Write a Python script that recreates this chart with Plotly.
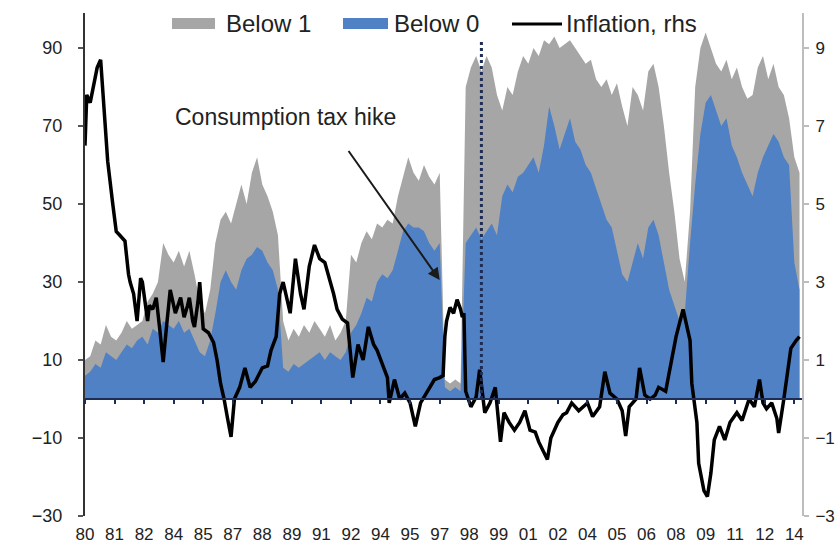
import pandas as pd
import plotly.graph_objects as go

# ---- data -------------------------------------------------------------
# Share of CPI items with y/y inflation below 1% and below 0% (quarterly, %)
quarters = pd.date_range("1980-01-01", periods=138, freq="3MS")

below_1 = [10, 11, 15, 14, 19, 16, 15, 17, 20, 18, 19, 20, 25, 27, 30, 40,
           37, 35, 38, 34, 38, 32, 25, 22, 28, 40, 46, 48, 45, 50, 55, 50,
           58, 62, 55, 52, 48, 42, 20, 15, 18, 16, 19, 17, 20, 18, 16, 19,
           15, 17, 20, 37, 35, 40, 43, 41, 45, 44, 46, 45, 52, 57, 62, 58,
           56, 60, 57, 55, 58, 5, 4, 5, 4, 80, 85, 88, 84, 88, 85, 78,
           74, 80, 78, 84, 88, 86, 90, 88, 92, 91, 93, 90, 91, 92, 90, 88,
           86, 87, 82, 80, 82, 78, 81, 75, 70, 80, 78, 74, 84, 86, 80, 70,
           58, 48, 36, 30, 48, 80, 90, 94, 90, 86, 84, 87, 82, 85, 80, 77,
           78, 85, 88, 82, 86, 80, 78, 72, 62, 58]

below_0 = [6, 7, 9, 8, 12, 11, 10, 12, 14, 13, 15, 16, 14, 18, 17, 20,
           19, 18, 20, 17, 18, 15, 12, 11, 15, 22, 30, 33, 30, 28, 33, 36,
           37, 39, 38, 35, 33, 28, 8, 7, 9, 8, 9, 10, 11, 12, 10, 12,
           11, 10, 12, 17, 19, 22, 26, 25, 30, 32, 31, 33, 38, 43, 45, 44,
           44, 43, 40, 38, 40, 3, 2, 3, 2, 40, 42, 44, 41, 43, 45, 42,
           52, 55, 53, 57, 58, 60, 62, 58, 65, 75, 70, 64, 68, 72, 66, 64,
           60, 58, 54, 50, 46, 44, 38, 32, 30, 35, 40, 36, 44, 46, 42, 35,
           28, 24, 20, 22, 40, 55, 68, 76, 78, 74, 70, 72, 65, 62, 58, 55,
           52, 58, 62, 65, 68, 66, 62, 60, 35, 28]

# Headline CPI inflation, y/y % (right-hand scale)
infl_dates = [
    "1980-01", "1980-02", "1980-04", "1980-06", "1980-08", "1980-10", "1980-11", "1980-12",
    "1981-02", "1981-05", "1981-07", "1981-09", "1981-11", "1981-12", "1982-02", "1982-03",
    "1982-05", "1982-07", "1982-09", "1982-10", "1983-01", "1983-02", "1983-04", "1983-06",
    "1983-08", "1983-10", "1983-12", "1984-02", "1984-04", "1984-05", "1984-08", "1984-10",
    "1984-12", "1985-01", "1985-03", "1985-04", "1985-06", "1985-07", "1985-09", "1985-12",
    "1986-03", "1986-05", "1986-07", "1986-09", "1986-11", "1987-01", "1987-03", "1987-06",
    "1987-09", "1987-12", "1988-03", "1988-07", "1988-10", "1988-12", "1989-03", "1989-05",
    "1989-07", "1989-09", "1989-11", "1990-02", "1990-05", "1990-07", "1990-10", "1991-01",
    "1991-04", "1991-07", "1991-10", "1991-12", "1992-02", "1992-05", "1992-08", "1992-11",
    "1993-02", "1993-05", "1993-08", "1993-11", "1994-01", "1994-04", "1994-07", "1994-08",
    "1994-11", "1995-02", "1995-05", "1995-08", "1995-11", "1996-02", "1996-04", "1996-07",
    "1996-10", "1997-01", "1997-03", "1997-04", "1997-05", "1997-07", "1997-09", "1997-11",
    "1998-01", "1998-02", "1998-03", "1998-04", "1998-07", "1998-10", "1998-12", "1999-03",
    "1999-06", "1999-09", "1999-12", "2000-02", "2000-05", "2000-08", "2000-11", "2001-02",
    "2001-05", "2001-08", "2001-10", "2002-03", "2002-05", "2002-09", "2002-12", "2003-02",
    "2003-05", "2003-09", "2004-02", "2004-05", "2004-09", "2004-12", "2005-03", "2005-07",
    "2005-10", "2005-12", "2006-02", "2006-06", "2006-08", "2006-11", "2007-02", "2007-05",
    "2007-07", "2007-11", "2008-02", "2008-05", "2008-09", "2008-11", "2009-01", "2009-02",
    "2009-05", "2009-06", "2009-09", "2009-11", "2010-01", "2010-03", "2010-06", "2010-09",
    "2010-12", "2011-04", "2011-07", "2011-11", "2012-02", "2012-05", "2012-07", "2012-09",
    "2012-12", "2013-03", "2013-04", "2013-07", "2013-09", "2013-11", "2014-02", "2014-04",
]
infl_values = [
    6.5, 7.8, 7.6, 8.1, 8.5, 8.7, 8.0, 7.5,
    6.1, 5.0, 4.3, 4.2, 4.1, 4.05, 3.2, 3.0,
    2.7, 2.0, 3.1, 3.0, 2.0, 2.4, 2.3, 2.6,
    1.8, 0.95, 1.9, 2.8, 2.4, 2.2, 2.6, 2.1,
    2.4, 2.6, 2.0, 1.85, 2.5, 3.0, 1.8, 1.7,
    1.45, 1.0, 0.4, 0.0, -0.5, -0.97, 0.0, 0.3,
    0.8, 0.3, 0.45, 0.8, 0.85, 1.25, 1.6, 2.7,
    3.0, 2.6, 2.2, 3.6, 2.7, 2.3, 3.4, 3.95,
    3.6, 3.5, 3.05, 2.7, 2.3, 2.05, 1.95, 0.55,
    1.4, 1.0, 1.85, 1.4, 1.25, 0.9, 0.55, -0.1,
    0.5, 0.0, 0.15, -0.1, -0.7, -0.1, 0.05, 0.25,
    0.5, 0.55, 0.6, 1.6, 2.0, 2.35, 2.2, 2.55,
    2.3, 2.1, 2.2, 0.2, -0.2, 0.05, 0.75, -0.35,
    -0.1, 0.3, -1.1, -0.35, -0.6, -0.8, -0.6, -0.3,
    -0.8, -0.85, -1.1, -1.55, -1.0, -0.6, -0.4, -0.35,
    -0.1, -0.3, -0.1, -0.45, -0.2, 0.7, 0.15, 0.0,
    -0.3, -0.95, -0.2, 0.0, 0.8, 0.1, 0.0, 0.1,
    0.3, 0.2, 0.9, 1.6, 2.3, 1.9, 1.5, 0.4,
    -0.6, -1.65, -2.35, -2.5, -1.9, -1.05, -0.7, -1.05,
    -0.6, -0.35, -0.55, 0.0, -0.2, 0.5, -0.1, -0.25,
    -0.1, -0.5, -0.87, 0.0, 0.6, 1.3, 1.5, 1.6,
]

# Category labels every 17 months along the bottom
tick_dates = pd.date_range("1980-01-01", periods=25, freq="17MS")
tick_text = ["80", "81", "82", "84", "85", "87", "88", "89", "91", "92", "94", "95",
             "97", "98", "99", "01", "02", "04", "05", "06", "08", "09", "11", "12", "14"]

left_ticks = [-30, -10, 10, 30, 50, 70, 90]
right_ticks = [-3, -1, 1, 3, 5, 7, 9]

# Annotation anchors
zirp_date = "1999-01-01"
zirp_top = 92
tax_arrow_tail = ("1992-08-01", 64)
tax_arrow_head = ("1997-01-01", 30.5)

x_range = ["1980-01-01", "2014-05-15"]
y_range = [-30, 99]
y2_range = [v / 10 for v in y_range]

GRAY = "#a6a6a6"
BLUE = "#4f81c4"
NAVY = "#1d2d55"
FONT = "Liberation Sans, Arial, sans-serif"

fig = go.Figure()

fig.add_trace(go.Scatter(x=quarters, y=below_1, name="Below 1", mode="lines",
                         line=dict(width=0, color=GRAY), fill="tozeroy",
                         fillcolor=GRAY, showlegend=False))
fig.add_trace(go.Scatter(x=quarters, y=below_0, name="Below 0", mode="lines",
                         line=dict(width=0, color=BLUE), fill="tozeroy",
                         fillcolor=BLUE, showlegend=False))
fig.add_trace(go.Scatter(x=pd.to_datetime(infl_dates), y=infl_values,
                         name="Inflation, rhs", mode="lines",
                         line=dict(width=3.5, color="#000000"),
                         xaxis="x2", yaxis="y2", showlegend=False))

fig.update_layout(
    width=836, height=547,
    margin=dict(l=85, r=34, t=13, b=31),
    plot_bgcolor="white", paper_bgcolor="white",
    font=dict(family=FONT, size=18, color="#222222"),
    xaxis=dict(range=x_range, tickvals=tick_dates, ticktext=tick_text,
               showline=False, showgrid=False, zeroline=False, ticks="",
               automargin=False,
               tickfont=dict(size=17, color="#222222"), ticklabelstandoff=6),
    xaxis2=dict(range=x_range, overlaying="x", anchor="free",
                position=(0 - y_range[0]) / (y_range[1] - y_range[0]),
                tickvals=tick_dates, showticklabels=False, automargin=False,
                showline=True, linecolor=NAVY, linewidth=2,
                ticks="outside", ticklen=4, tickwidth=2, tickcolor=NAVY,
                showgrid=False, zeroline=False),
    yaxis=dict(range=y_range, tickvals=left_ticks, showgrid=False, zeroline=False,
               showline=True, linecolor="#333333", linewidth=2, automargin=False,
               ticks="outside", ticklen=5, tickwidth=2, tickcolor="#555555",
               tickfont=dict(size=18, color="#222222"), ticklabelstandoff=12),
    yaxis2=dict(range=y2_range, tickvals=right_ticks, overlaying="y", side="right",
                anchor="x", showgrid=False, zeroline=False, automargin=False,
                showline=True, linecolor="#bdbdbd", linewidth=2,
                ticks="outside", ticklen=5, tickwidth=2, tickcolor="#bdbdbd",
                tickfont=dict(size=17, color="#222222"), ticklabelstandoff=3),
)

# Dotted marker line
fig.add_shape(type="line", xref="x", yref="y", x0=zirp_date, x1=zirp_date,
              y0=0, y1=zirp_top, line=dict(color=NAVY, width=3, dash="dot"),
              layer="above")

# Consumption tax hike callout
fig.add_annotation(x=tax_arrow_head[0], y=tax_arrow_head[1], xref="x", yref="y",
                   ax=tax_arrow_tail[0], ay=tax_arrow_tail[1], axref="x", ayref="y",
                   text="", showarrow=True, arrowhead=2, arrowsize=1.2,
                   arrowwidth=2, arrowcolor="#1a1a1a")
fig.add_annotation(x=0.2803, y=0.7932, xref="paper", yref="paper",
                   text="Consumption tax hike", showarrow=False,
                   font=dict(size=23, color="#222222"),
                   xanchor="center", yanchor="middle")

# Legend drawn along the top of the plot area
def px_x(p):
    return (p - 85) / 717


def px_y(p):
    return (516 - p) / 503


fig.add_shape(type="rect", xref="paper", yref="paper",
              x0=px_x(172), x1=px_x(215), y0=px_y(29), y1=px_y(18),
              fillcolor=GRAY, line=dict(width=0))
fig.add_shape(type="rect", xref="paper", yref="paper",
              x0=px_x(343), x1=px_x(388), y0=px_y(29), y1=px_y(18),
              fillcolor=BLUE, line=dict(width=0))
fig.add_shape(type="line", xref="paper", yref="paper",
              x0=px_x(512), x1=px_x(562), y0=px_y(24), y1=px_y(24),
              line=dict(color="#000000", width=3))
for label, left in [("Below 1", 224), ("Below 0", 392), ("Inflation, rhs", 564)]:
    fig.add_annotation(x=px_x(left), y=px_y(23), xref="paper", yref="paper",
                       text=label, showarrow=False, xanchor="left", yanchor="middle",
                       font=dict(size=24, color="#222222"))

fig.write_html("out.html")
